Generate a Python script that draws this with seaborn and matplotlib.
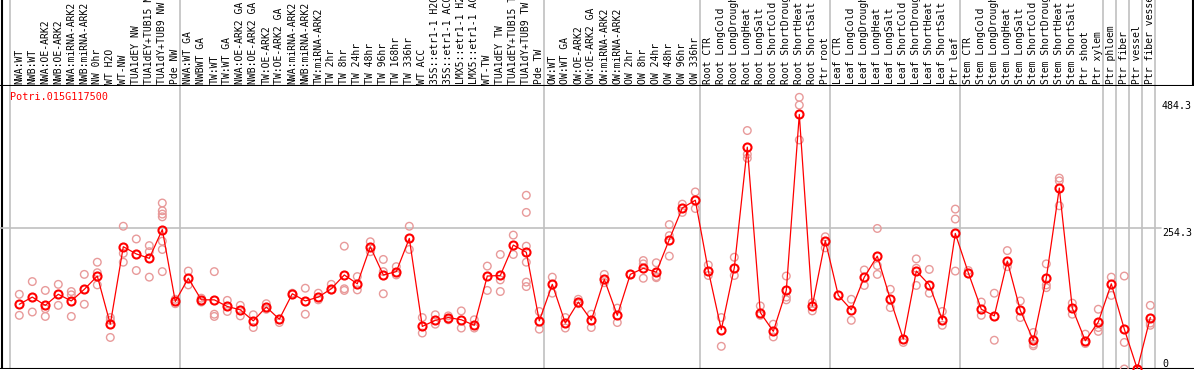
import numpy as np
import pandas as pd
import matplotlib
matplotlib.use("Agg")
import matplotlib.pyplot as plt
import seaborn as sns

GENE = "Potri.015G117500"

SAMPLES = [
    "NWA:WT", "NWB:WT", "NWA:OE-ARK2", "NWB:OE-ARK2", "NWA:miRNA-ARK2",
    "NWB:miRNA-ARK2", "NW 0hr", "WT H2O", "WT-NW", "TUA1dEY NW",
    "TUA1dEY+TUB15 NW", "TUA1dY+TUB9 NW", "Pde NW",
    "NWA:WT GA", "NWBWT GA", "TW:WT", "TW:WT GA", "NWA:OE-ARK2 GA",
    "NWB:OE-ARK2 GA", "TW:OE-ARK2", "TW:OE-ARK2 GA", "NWA:miRNA-ARK2",
    "NWB:miRNA-ARK2", "TW:miRNA-ARK2", "TW 2hr", "TW 8hr", "TW 24hr",
    "TW 48hr", "TW 96hr", "TW 168hr", "TW 336hr", "WT ACC",
    "35S::etr1-1 H2O", "35S::etr1-1 ACC", "LMX5::etr1-1 H2O",
    "LMX5::etr1-1 ACC", "WT-TW", "TUA1dEY TW", "TUA1dEY+TUB15 TW",
    "TUA1dY+TUB9 TW", "Pde TW",
    "OW:WT", "OW:WT GA", "OW:OE-ARK2", "OW:OE-ARK2 GA", "OW:miRNA-ARK2",
    "OW:miRNA-ARK2", "OW 2hr", "OW 8hr", "OW 24hr", "OW 48hr", "OW 96hr",
    "OW 336hr",
    "Root CTR", "Root LongCold", "Root LongDrought", "Root LongHeat",
    "Root LongSalt", "Root ShortCold", "Root ShortDrought", "Root ShortHeat",
    "Root ShortSalt", "Ptr root",
    "Leaf CTR", "Leaf LongCold", "Leaf LongDrought", "Leaf LongHeat",
    "Leaf LongSalt", "Leaf ShortCold", "Leaf ShortDrought", "Leaf ShortHeat",
    "Leaf ShortSalt", "Ptr leaf",
    "Stem CTR", "Stem LongCold", "Stem LongDrought", "Stem LongHeat",
    "Stem LongSalt", "Stem ShortCold", "Stem ShortDrought", "Stem ShortHeat",
    "Stem ShortSalt", "Ptr shoot",
    "Ptr xylem", "Ptr phloem", "Ptr fiber", "Ptr vessel", "Ptr fiber vessel",
]

MEANS = [
    117, 130, 115, 135, 123, 144, 168, 81, 221, 208, 200, 252, 122, 164, 125,
    125, 113, 107, 87, 112, 90, 136, 123, 130, 145, 170, 154, 221, 170, 176,
    236, 77, 88, 93, 89, 79, 168, 169, 224, 211, 87,
    153, 83, 121, 88, 162, 97, 171, 182, 175, 234, 291, 305,
    178, 71, 183, 401, 102, 68, 142, 460, 114, 232,
    133, 107, 166, 204, 126, 54, 177, 152, 89, 245,
    174, 108, 96, 195, 106, 52, 164, 327, 110,
    51, 85, 154, 72, 0, 93,
]

REPS = [
    [135, 97], [158, 103], [142, 109, 95], [153, 115], [140, 134, 95],
    [171, 117], [193, 174, 152], [93, 88, 57], [258, 209, 193], [235, 178],
    [223, 212, 166], [300, 286, 280, 275, 231, 216, 176], [126, 118],
    [177, 152], [128, 121],
    [176, 99, 95], [124, 104], [115, 96], [98, 75], [118, 108], [84], [137],
    [146, 99], [137, 125], [153, 143], [222, 145, 142], [167, 143],
    [230, 212], [198, 176, 136], [185, 170],
    [258, 216], [93, 65], [98, 81], [96, 89], [105, 74], [89, 74],
    [186, 142], [207, 161, 140], [242, 207],
    [314, 283, 222, 193, 157, 149], [104, 72],
    [166, 137], [93, 74], [126, 118], [99, 75], [171, 156], [110, 84], [171],
    [196, 190, 164], [192, 167, 165], [261, 241, 204], [298, 283], [320, 290],
    [188, 169], [93, 41], [202, 169], [431, 388, 381], [114, 97], [81, 58],
    [168, 130, 125], [491, 477, 414], [120, 105], [239, 219],
    [], [126, 88], [179, 151], [254, 187, 171], [144, 111], [48],
    [199, 182, 151], [180, 137], [104, 79], [289, 271, 177],
    [178], [121, 97], [137, 52], [214, 185], [123, 93], [66, 45, 42],
    [190, 152, 147], [345, 340, 295], [119, 99],
    [63, 46], [108, 75, 68], [166, 133], [168, 48, 0], [0], [115, 83, 79],
]

# last sample index of each block (grey separators)
GROUP_ENDS = [12, 40, 52, 62, 72, 83, 84, 85, 86, 87]
Y_TICKS = [484.3, 254.3, 0]

W, H = 1194, 370
X0, STEP = 19.3, 13.0          # pixel of first sample, pixel spacing
PX_PER_UNIT = 0.5533
Y_BOTTOM, LAB_BOTTOM = 369, 86

mean_df = pd.DataFrame({"pos": np.arange(len(SAMPLES)), "value": MEANS})
rep_df = pd.DataFrame([(i, v) for i, vals in enumerate(REPS) for v in vals],
                      columns=["pos", "value"])

sns.set_style("white")
plt.rcParams["font.family"] = ["DejaVu Sans Mono"]

fig = plt.figure(figsize=(W / 100, H / 100), dpi=100)
xlim = ((0 - X0) / STEP, (W - X0) / STEP)

ax = fig.add_axes([0, (H - Y_BOTTOM) / H, 1, (Y_BOTTOM - LAB_BOTTOM) / H])
axl = fig.add_axes([0, (H - LAB_BOTTOM) / H, 1, LAB_BOTTOM / H])

for a in (ax, axl):
    a.set_xlim(*xlim)
    a.set_xticks([]); a.set_yticks([])
    a.set_facecolor("white")
    for s in a.spines.values():
        s.set_visible(False)
    a.axvline(-0.68, color="#c0c0c0", lw=1.2)
    for e in GROUP_ENDS:
        a.axvline(e + 0.38, color="#c0c0c0", lw=1.2)
    a.axvline((2 - X0) / STEP, color="black", lw=1.5)

ax.set_ylim(0, (Y_BOTTOM - LAB_BOTTOM) / PX_PER_UNIT)
axl.set_ylim(0, 1)

ax.axhline(254.3, xmin=0, xmax=1161 / W, color="#c0c0c0", lw=1.2)
ax.axhline(0, color="black", lw=1.5)

sns.scatterplot(data=rep_df, x="pos", y="value", ax=ax, marker="o", s=30,
                facecolor="none", edgecolor="#e89a9a", linewidth=1.0,
                legend=False, zorder=3)
sns.lineplot(data=mean_df, x="pos", y="value", ax=ax, color="red", lw=0.9,
             marker="o", markersize=5.8, markerfacecolor="none",
             markeredgecolor="red", markeredgewidth=1.5, zorder=4)
ax.set_xlabel(""); ax.set_ylabel("")
ax.set_xticks([]); ax.set_yticks([])

for v in Y_TICKS:
    ax.text((1162 - X0) / STEP, v, f"{v:g}", fontsize=7.2, color="black",
            va="bottom" if v == 0 else "top", ha="left")

fig.text(10 / W, 1 - 97 / H, GENE, color="red", fontsize=7.3, va="center")

# long names are clipped at the top, as in the original
for i, name in enumerate(SAMPLES):
    axl.text(i, 2 / LAB_BOTTOM, name, rotation=90, ha="center", va="bottom",
             fontsize=7, color="black", clip_on=True)

axl.axhline(0.0, color="black", lw=1.5)
axl.axvline((1193 - X0) / STEP, color="black", lw=1.5)

fig.savefig("out.png", dpi=100)
